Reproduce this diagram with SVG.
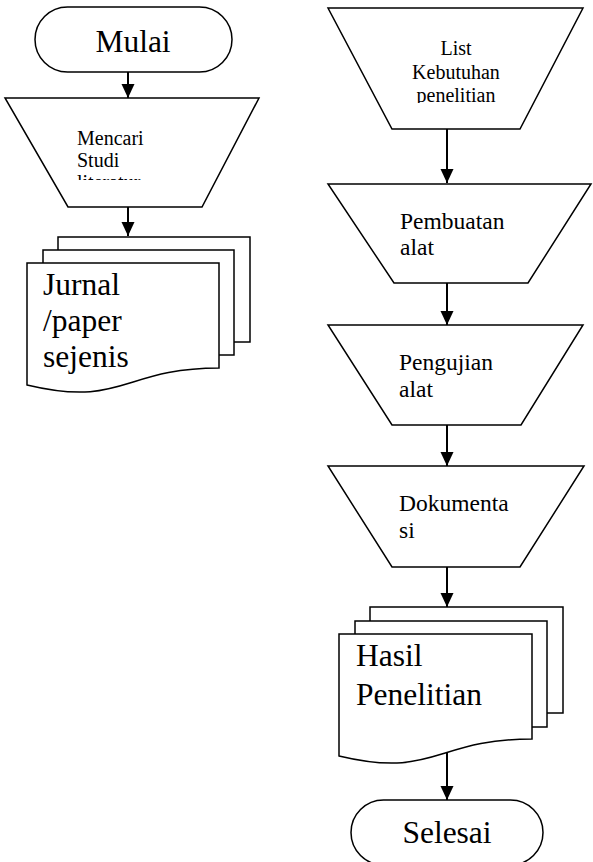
<svg xmlns="http://www.w3.org/2000/svg" width="593" height="862" viewBox="0 0 593 862">
<style>
.shape{fill:#fff;stroke:#000;stroke-width:1.5}
.conn{stroke:#000;stroke-width:2;fill:none}
.t{font-family:"Liberation Serif","Times New Roman",serif;fill:#000}
.big{font-size:31.5px}
.mid{font-size:23.5px}
.sm{font-size:20px}
</style>
<defs>
<marker id="ah" markerUnits="userSpaceOnUse" markerWidth="16" markerHeight="16" viewBox="0 0 16 16" refX="14" refY="8" orient="auto">
<path d="M0,1.5 L14,8 L0,14.5 Z" fill="#000"/>
</marker>
<clipPath id="c1"><rect x="60" y="100" width="150" height="80"/></clipPath>
<clipPath id="c2"><rect x="380" y="10" width="150" height="93"/></clipPath>
</defs>
<rect width="593" height="862" fill="#fff"/>
<g id="connectors">
<line class="conn" x1="128" y1="72" x2="128" y2="98" marker-end="url(#ah)"/>
<line class="conn" x1="128" y1="207" x2="128" y2="236" marker-end="url(#ah)"/>
<line class="conn" x1="447" y1="129" x2="447" y2="183" marker-end="url(#ah)"/>
<line class="conn" x1="447" y1="283" x2="447" y2="325" marker-end="url(#ah)"/>
<line class="conn" x1="447" y1="425" x2="447" y2="466" marker-end="url(#ah)"/>
<line class="conn" x1="447" y1="567" x2="447" y2="607" marker-end="url(#ah)"/>
<line class="conn" x1="447" y1="752" x2="447" y2="800" marker-end="url(#ah)"/>
</g>
<g id="mulai">
<rect class="shape" x="35" y="7" width="197" height="65" rx="32.5"/>
<text class="t big" x="133" y="52" text-anchor="middle">Mulai</text>
</g>
<g id="mencari">
<path class="shape" d="M5,98 H259 L202,207 H68 Z"/>
<text class="t sm" clip-path="url(#c1)"><tspan x="77" y="145">Mencari</tspan><tspan x="77" y="167">Studi</tspan><tspan x="77" y="189">literatur</tspan></text>
</g>
<g id="jurnal">
<rect class="shape" x="58" y="237" width="192" height="105"/>
<rect class="shape" x="43" y="250" width="191" height="105"/>
<path class="shape" d="M27,263 H219 V368 C123,368 123,408 27,385 Z"/>
<text class="t big"><tspan x="43" y="295">Jurnal</tspan><tspan x="43" y="331">/paper</tspan><tspan x="43" y="367">sejenis</tspan></text>
</g>
<g id="list">
<path class="shape" d="M328,8 H583 L520,129 H392 Z"/>
<text class="t sm" text-anchor="middle" clip-path="url(#c2)"><tspan x="456" y="55">List</tspan><tspan x="456" y="79">Kebutuhan</tspan><tspan x="456" y="102">penelitian</tspan></text>
</g>
<g id="pembuatan">
<path class="shape" d="M328,184 H591 L528,283 H394 Z"/>
<text class="t mid"><tspan x="400" y="229">Pembuatan</tspan><tspan x="400" y="255">alat</tspan></text>
</g>
<g id="pengujian">
<path class="shape" d="M328,325 H583 L521,425 H392 Z"/>
<text class="t mid"><tspan x="399" y="370">Pengujian</tspan><tspan x="399" y="397">alat</tspan></text>
</g>
<g id="dokumentasi">
<path class="shape" d="M328,466 H584 L520,567 H392 Z"/>
<text class="t mid"><tspan x="399" y="511">Dokumenta</tspan><tspan x="399" y="538">si</tspan></text>
</g>
<g id="hasil">
<rect class="shape" x="370" y="607" width="193" height="106"/>
<rect class="shape" x="355" y="621" width="192" height="106"/>
<path class="shape" d="M339,634 H532 V739 C435,739 435,779 339,756 Z"/>
<text class="t big"><tspan x="356" y="666">Hasil</tspan><tspan x="356" y="705">Penelitian</tspan></text>
</g>
<g id="selesai">
<rect class="shape" x="351" y="800" width="192" height="65" rx="32.5"/>
<text class="t big" x="447" y="843" text-anchor="middle">Selesai</text>
</g>
</svg>
